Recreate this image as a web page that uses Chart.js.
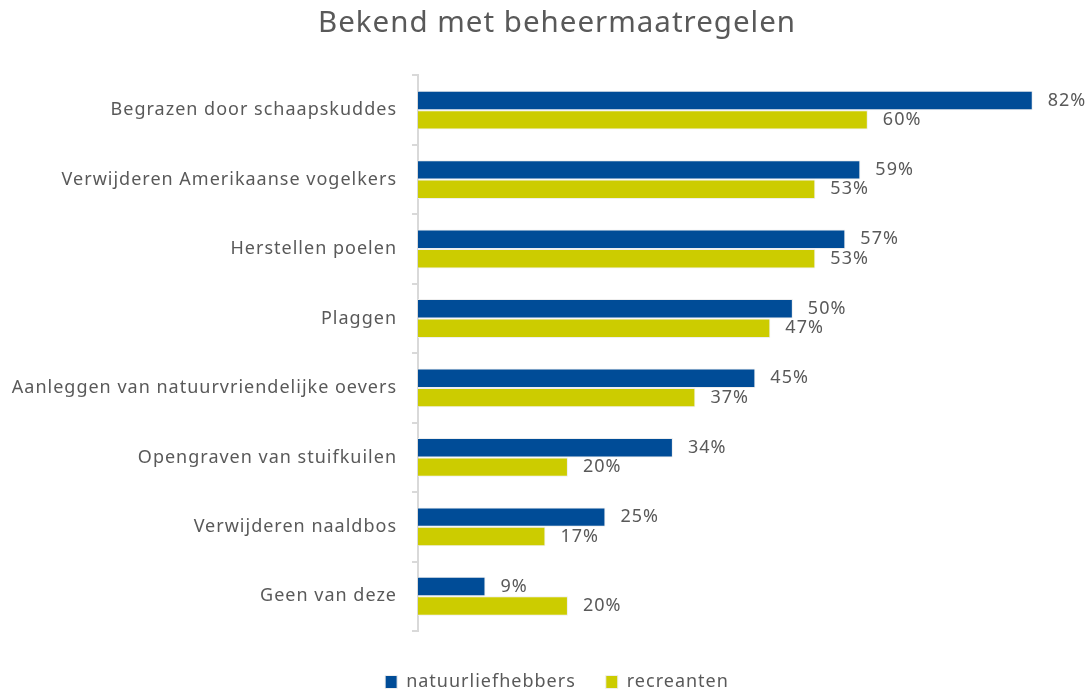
<!DOCTYPE html>
<html>
<head>
<meta charset="utf-8">
<script src="https://cdn.jsdelivr.net/npm/chart.js@4.4.0/dist/chart.umd.min.js"></script>
<style>
  html, body { margin: 0; padding: 0; background: #fff; }
  #wrap { width: 1089px; height: 692px; }
</style>
</head>
<body>
<div id="wrap"><canvas id="myChart" width="1089" height="692"></canvas></div>
<script>
const categories = [
    "Begrazen door schaapskuddes",
    "Verwijderen Amerikaanse vogelkers",
    "Herstellen poelen",
    "Plaggen",
    "Aanleggen van natuurvriendelijke oevers",
    "Opengraven van stuifkuilen",
    "Verwijderen naaldbos",
    "Geen van deze"
];
const natuurliefhebbers = [82, 59, 57, 50, 45, 34, 25, 9];
const recreanten = [60, 53, 53, 47, 37, 20, 17, 20];

const FONT = "'Noto Sans', sans-serif";
const GREY = "#595959";

// the original text is set a bit wide, so add some letter spacing
const spacing = {
    id: "spacing",
    beforeLayout(chart) { chart.ctx.letterSpacing = "1px"; },
    // let the long category labels run into the left padding without being clipped
    afterLayout(chart) { chart.scales.y.left = 0; },
    beforeDraw(chart) { chart.ctx.letterSpacing = "1px"; }
};

// draws the "82%" style labels just right of each bar
const valueLabels = {
    id: "valueLabels",
    afterDatasetsDraw(chart) {
        const ctx = chart.ctx;
        ctx.save();
        ctx.font = "18px " + FONT;
        ctx.fillStyle = GREY;
        ctx.textAlign = "left";
        ctx.textBaseline = "middle";
        chart.data.datasets.forEach((ds, i) => {
            chart.getDatasetMeta(i).data.forEach((bar, j) => {
                ctx.fillText(ds.data[j] + "%", bar.x + 15, bar.y);
            });
        });
        ctx.restore();
    }
};

const ctx = document.getElementById("myChart").getContext("2d");
const chart = new Chart(ctx, {
    type: "bar",
    data: {
        labels: categories,
        datasets: [
            {
                label: "natuurliefhebbers",
                data: natuurliefhebbers,
                backgroundColor: "#004c97",
                borderColor: "#eeeeee",
                borderWidth: 1
            },
            {
                label: "recreanten",
                data: recreanten,
                backgroundColor: "#cccc00",
                borderColor: "#eeeeee",
                borderWidth: 1
            }
        ]
    },
    options: {
        indexAxis: "y",
        responsive: false,
        animation: false,
        layout: { padding: { left: 25, right: 0, top: 0, bottom: -9 } },
        datasets: {
            bar: { categoryPercentage: 0.56, barPercentage: 1.0 }
        },
        scales: {
            x: {
                display: false,
                min: 0,
                max: 89.5
            },
            y: {
                afterFit(scale) { scale.width = 393; },
                grid: {
                    drawOnChartArea: false,
                    color: "#d9d9d9",
                    tickLength: 6,
                    lineWidth: 2,
                    offset: true
                },
                border: { display: true, color: "#d9d9d9", width: 2 },
                ticks: {
                    color: GREY,
                    font: { family: FONT, size: 18 },
                    padding: 15
                }
            }
        },
        plugins: {
            title: {
                display: true,
                text: "Bekend met beheermaatregelen",
                color: GREY,
                font: { family: FONT, size: 29.5, weight: "normal" },
                padding: { top: 6, bottom: 34 }
            },
            legend: {
                display: true,
                position: "bottom",
                title: {
                    display: true,
                    text: " ",
                    font: { size: 10 },
                    padding: 0
                },
                labels: {
                    color: GREY,
                    font: { family: FONT, size: 18 },
                    boxWidth: 12,
                    boxHeight: 13,
                    padding: 30
                }
            },
            tooltip: { enabled: false }
        }
    },
    plugins: [spacing, valueLabels]
});
</script>
</body>
</html>
